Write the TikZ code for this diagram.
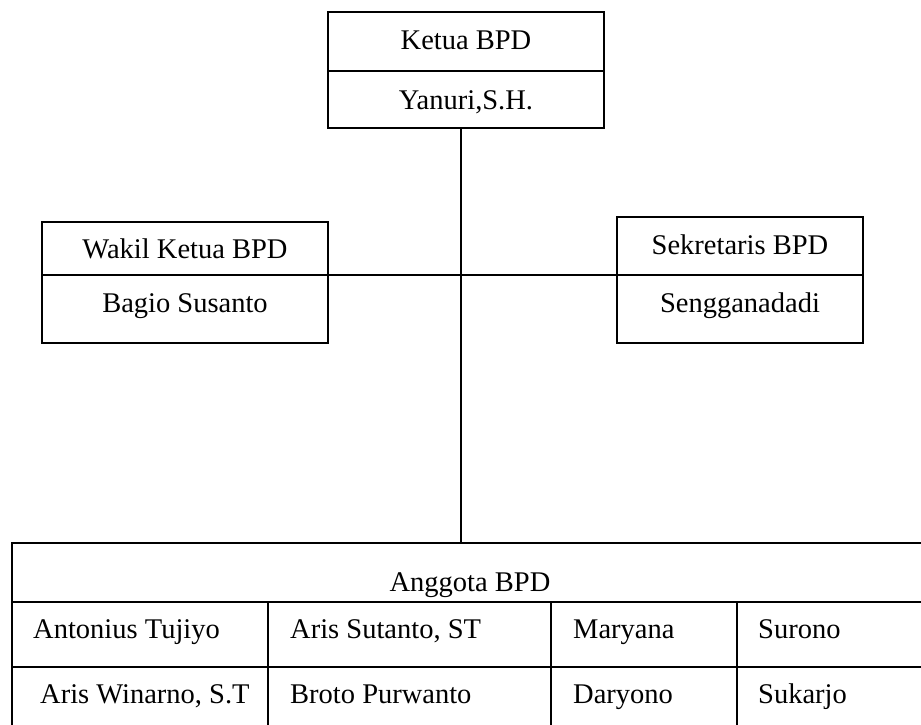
\documentclass[tikz,border=0pt]{standalone}
\usepackage{fontspec}
\setmainfont{Liberation Serif}
\begin{document}
\begin{tikzpicture}[x=1pt,y=-1pt,
  cell/.style={draw=black,line width=2pt,rectangle,inner sep=0pt,outer sep=0pt,anchor=north west},
  lab/.style={inner sep=0pt,anchor=base,font=\fontsize{28.5}{34}\selectfont},
  labw/.style={lab,anchor=base west},
  conn/.style={draw=black,line width=1.6pt}]
\useasboundingbox (0,0) rectangle (921,725);
\clip (0,0) rectangle (921,725);
% top box
\node[cell,minimum width=276pt,minimum height=59pt] (k1) at (328,12) {};
\node[cell,minimum width=276pt,minimum height=57pt] (k2) at (328,71) {};
% left box
\node[cell,minimum width=286pt,minimum height=53pt] (w1) at (42,222) {};
\node[cell,minimum width=286pt,minimum height=68pt] (w2) at (42,275) {};
% right box
\node[cell,minimum width=246pt,minimum height=58pt] (s1) at (617,217) {};
\node[cell,minimum width=246pt,minimum height=68pt] (s2) at (617,275) {};
% table
\node[cell,minimum width=923pt,minimum height=59pt] (ang) at (12,543) {};
\node[cell,minimum width=256pt,minimum height=65pt] (a11) at (12,602) {};
\node[cell,minimum width=283pt,minimum height=65pt] (a12) at (268,602) {};
\node[cell,minimum width=186pt,minimum height=65pt] (a13) at (551,602) {};
\node[cell,minimum width=198pt,minimum height=65pt] (a14) at (737,602) {};
\node[cell,minimum width=256pt,minimum height=66pt] (a21) at (12,667) {};
\node[cell,minimum width=283pt,minimum height=66pt] (a22) at (268,667) {};
\node[cell,minimum width=186pt,minimum height=66pt] (a23) at (551,667) {};
\node[cell,minimum width=198pt,minimum height=66pt] (a24) at (737,667) {};
% connectors
\coordinate (jn) at (461,275);
\draw[conn] (k2.south -| jn) -- (ang.north -| jn);
\draw[conn] (w1.south east) -- (s1.south west);
% labels
\node[lab] (t1) at (466,49) {Ketua BPD};
\node[lab] (t2) at (466,110) {Yanuri,S.H.};
\node[lab] (t3) at (185,258) {Wakil Ketua BPD};
\node[lab] (t4) at (185,312) {Bagio Susanto};
\node[lab] (t5) at (740,254) {Sekretaris BPD};
\node[lab] (t6) at (740,312) {Sengganadadi};
\node[lab] (t7) at (470,591) {Anggota BPD};
\node[labw] (m1) at (33,638) {Antonius Tujiyo};
\node[labw] (m2) at (290,638) {Aris Sutanto, ST};
\node[labw] (m3) at (573,638) {Maryana};
\node[labw] (m4) at (758,638) {Surono};
\node[labw] (m5) at (40,703) {Aris Winarno, S.T};
\node[labw] (m6) at (290,703) {Broto Purwanto};
\node[labw] (m7) at (573,703) {Daryono};
\node[labw] (m8) at (758,703) {Sukarjo};
\end{tikzpicture}
\end{document}
